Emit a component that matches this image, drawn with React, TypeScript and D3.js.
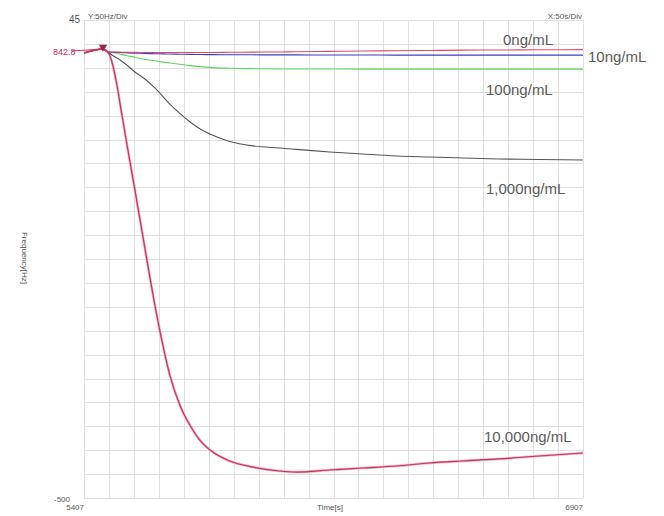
import React, { useEffect, useRef } from 'react';
import * as d3 from 'd3';

// time axis (s) shared by every trace
const times = [5407, 5464, 5479, 5491, 5506, 5521, 5539, 5560, 5590, 5620, 5644, 5665, 5695, 5725, 5755, 5794, 5845, 5914, 5995, 6046, 6145, 6244, 6346, 6445, 6544, 6655, 6775, 6907];

// frequency shift (Hz) per concentration
const freq0 = [7.4, 11.9, 8.5, 8.5, 8.4, 8.3, 8.2, 8.1, 8.0, 8.0, 7.9, 7.9, 7.9, 7.9, 8.0, 8.0, 8.2, 8.4, 8.6, 8.8, 9.2, 9.6, 10.0, 10.3, 10.6, 10.8, 11.0, 11.2];
const freq10 = [7.4, 11.9, 8.5, 8.2, 8.0, 7.8, 7.5, 7.2, 6.9, 6.6, 6.4, 6.2, 6.0, 5.8, 5.6, 5.5, 5.4, 5.3, 5.2, 5.2, 5.1, 5.1, 5.0, 5.0, 5.0, 5.0, 5.0, 5.0];
const freq100 = [7.4, 11.9, 8.5, 8.0, 7.0, 5.5, 4.0, 2.5, 0.0, -1.5, -3.0, -4.0, -5.5, -7.0, -8.2, -9.3, -10.0, -10.5, -10.8, -10.9, -10.9, -11.0, -11.0, -11.0, -11.0, -11.0, -11.0, -11.0];
const freq1000 = [7.4, 11.9, 8.5, 5.1, 1.7, -2.0, -7.4, -14.3, -22.3, -32.5, -42.0, -51.0, -61.5, -71.0, -79.0, -86.5, -93.5, -98.5, -101.0, -102.5, -105.5, -107.8, -110.0, -111.2, -112.3, -113.5, -114.0, -114.6];
const freq10000 = [7.4, 11.9, 8.5, -2.9, -29.1, -63.3, -103.2, -148.8, -215.0, -280.0, -325.6, -359.8, -394.0, -416.8, -433.9, -447.6, -457.8, -464.7, -469.2, -470.4, -468.1, -465.8, -463.5, -460.1, -457.8, -455.5, -452.1, -448.7];

const seriesNames = ['0ng/mL', '10ng/mL', '100ng/mL', '1,000ng/mL', '10,000ng/mL'];
const xDomain = [5407, 6907];
const yDomain = [45, -500];
const markerLabel = '842.8';

function App() {
  const ref = useRef(null);

  useEffect(() => {
    const svg = d3.select(ref.current);
    svg.selectAll('*').remove();

    const left = 84, right = 583, top = 20, bottom = 498;
    const x = d3.scaleLinear().domain(xDomain).range([left, right]);
    const y = d3.scaleLinear().domain(yDomain).range([top, bottom]);
    const font = 'Liberation Sans, Arial, sans-serif';

    // grid: 20 x 20 cells
    const xs = d3.range(0, 21).map(i => xDomain[0] + (xDomain[1] - xDomain[0]) * i / 20);
    const ys = d3.range(0, 21).map(i => yDomain[0] + (yDomain[1] - yDomain[0]) * i / 20);
    const grid = svg.append('g').attr('stroke', '#e0e0e0').attr('stroke-width', 1);
    grid.selectAll('line.v').data(xs).enter().append('line')
      .attr('x1', d => Math.round(x(d)) + 0.5).attr('x2', d => Math.round(x(d)) + 0.5)
      .attr('y1', top).attr('y2', bottom);
    grid.selectAll('line.h').data(ys).enter().append('line')
      .attr('y1', d => Math.round(y(d)) + 0.5).attr('y2', d => Math.round(y(d)) + 0.5)
      .attr('x1', left).attr('x2', right);

    const all = [freq0, freq10, freq100, freq1000, freq10000];
    const colors = ['#e04a6e', '#3c3cc8', '#5ad65a', '#555555', '#c8325a'];
    const line = d3.line().x((d, i) => x(times[i])).y(d => y(d)).curve(d3.curveMonotoneX);

    // pink halo under the 10,000 trace
    svg.append('path').attr('d', line(freq10000)).attr('fill', 'none')
      .attr('stroke', '#f4b0c4').attr('stroke-width', 2.6);

    [2, 3, 1, 0, 4].forEach(k => {
      svg.append('path').attr('d', line(all[k])).attr('fill', 'none')
        .attr('stroke', colors[k]).attr('stroke-width', k === 4 ? 1.2 : 1.1);
    });

    // marker
    svg.append('line').attr('x1', 72).attr('x2', x(times[1])).attr('y1', 51).attr('y2', y(freq0[1]))
      .attr('stroke', '#c8325a').attr('stroke-width', 1);
    svg.append('path').attr('d', d3.symbol(d3.symbolTriangle, 30)())
      .attr('transform', `translate(${x(times[1])},${y(freq0[1]) - 2}) rotate(180)`)
      .attr('fill', '#a0203e');
    svg.append('text').attr('x', 53).attr('y', 55).text(markerLabel)
      .attr('font-family', font).attr('font-size', 9).attr('fill', '#d02050');

    // series labels
    const labelPos = [[503, 45], [588, 62], [486, 95], [486, 194], [484, 442]];
    seriesNames.forEach((n, i) => {
      svg.append('text').attr('x', labelPos[i][0]).attr('y', labelPos[i][1]).text(n)
        .attr('font-family', font).attr('font-size', 15).attr('fill', '#5a5a5a');
    });

    // axis annotations
    const small = (tx, ty, t, size, anchor = 'start') =>
      svg.append('text').attr('x', tx).attr('y', ty).text(t).attr('text-anchor', anchor)
        .attr('font-family', font).attr('font-size', size).attr('fill', '#555');
    small(80, 23, '45', 10, 'end');
    small(88, 19, 'Y:50Hz/Div', 8);
    small(582, 19, 'X:50s/Div', 8, 'end');
    small(70, 502, '-500', 8, 'end');
    small(84, 510, String(xDomain[0]), 8, 'end');
    small(583, 510, String(xDomain[1]), 8, 'end');
    small(330, 510, 'Time[s]', 8, 'middle');
    svg.append('text').attr('transform', 'translate(22,258) rotate(90)').text('Frequency[Hz]')
      .attr('text-anchor', 'middle').attr('font-family', font).attr('font-size', 8).attr('fill', '#555');
  }, []);

  return (
    <svg ref={ref} width={664} height={516}
      style={{ position: 'absolute', left: 0, top: 0, background: '#fff' }} />
  );
}

export default App;
